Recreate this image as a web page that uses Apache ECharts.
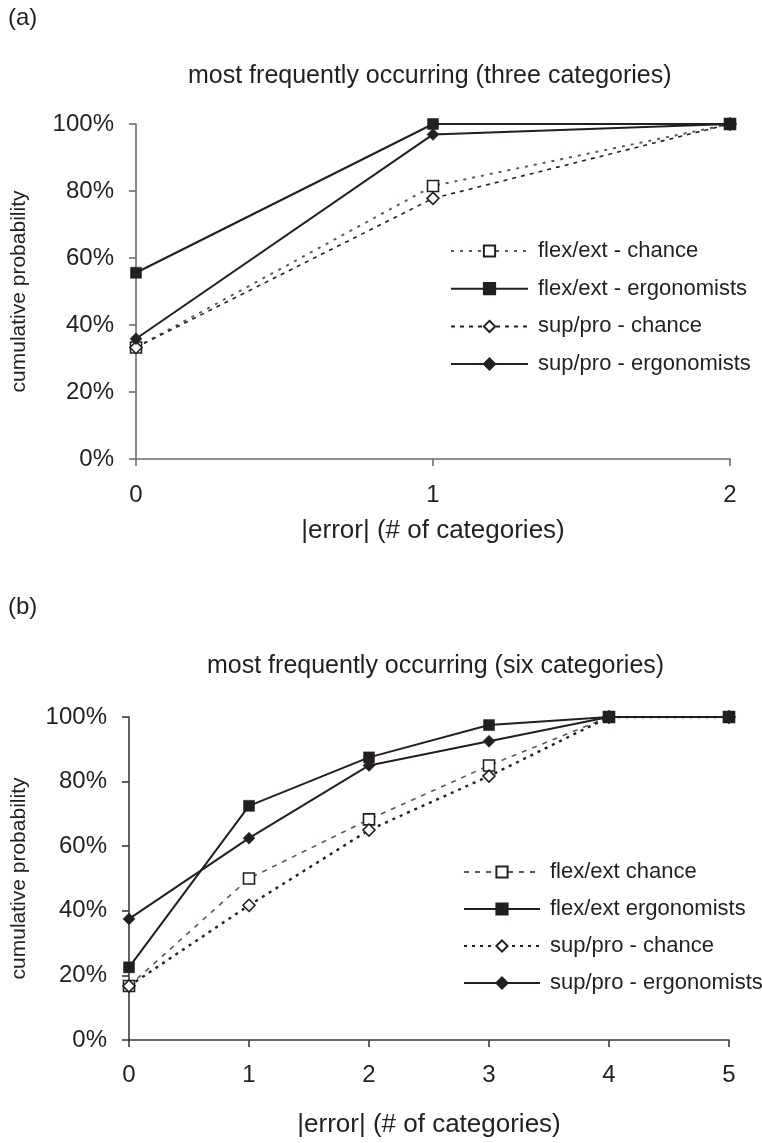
<!DOCTYPE html>
<html>
<head>
<meta charset="utf-8">
<script src="https://cdn.jsdelivr.net/npm/echarts@6/dist/echarts.min.js"></script>
<style>
  html, body { margin: 0; padding: 0; background: #fff; }
  #chartA { width: 762px; height: 572px; }
  #chartB { width: 762px; height: 571px; }
</style>
</head>
<body>
<div id="chartA"></div>
<div id="chartB"></div>
<script>
// Panel (a): three categories
const aErrors = [0, 1, 2];
const aFlexChance = [33.3, 81.5, 100];
const aFlexErgo = [55.6, 100, 100];
const aSupChance = [33.3, 77.8, 100];
const aSupErgo = [35.9, 96.9, 100];
const aNames = ['flex/ext - chance', 'flex/ext - ergonomists', 'sup/pro - chance', 'sup/pro - ergonomists'];

// Panel (b): six categories
const bErrors = [0, 1, 2, 3, 4, 5];
const bFlexChance = [16.7, 50, 68.3, 85, 100, 100];
const bFlexErgo = [22.5, 72.5, 87.5, 97.5, 100, 100];
const bSupChance = [16.7, 41.7, 65, 81.7, 100, 100];
const bSupErgo = [37.5, 62.5, 85, 92.5, 100, 100];
const bNames = ['flex/ext chance', 'flex/ext ergonomists', 'sup/pro - chance', 'sup/pro - ergonomists'];

const yTicks = [0, 20, 40, 60, 80, 100];

const FONT = '"Liberation Sans", Arial, sans-serif';
const INK = '#231f20';
const PURPLE = '#55557f';

function pairs(xs, ys) { return xs.map((x, i) => [x, ys[i]]); }

function lineSeries(name, xs, ys, opts) {
  return {
    name: name,
    type: 'line',
    data: pairs(xs, ys),
    symbol: opts.symbol,
    symbolSize: opts.symbolSize,
    showAllSymbol: true,
    animation: false,
    z: opts.z,
    lineStyle: { color: opts.lineColor, width: opts.width, type: opts.dash || 'solid' },
    itemStyle: {
      color: opts.open ? '#ffffff' : INK,
      borderColor: INK,
      borderWidth: opts.open ? 1.6 : 0.5
    },
    emphasis: { disabled: true }
  };
}

function buildOption(p) {
  return {
    animation: false,
    textStyle: { fontFamily: FONT },
    graphic: [
      { type: 'text', left: 8, top: p.tagTop,
        style: { text: p.tag, font: '24px ' + FONT, fill: INK } },
      { type: 'text', left: p.titleLeft, top: p.titleTop,
        style: { text: p.title, font: '25px ' + FONT, fill: INK } }
    ],
    grid: { left: p.grid.left, right: p.grid.right, top: p.grid.top, height: p.grid.height },
    legend: {
      orient: 'vertical',
      left: p.legend.left,
      top: p.legend.top,
      padding: 0,
      itemWidth: p.legend.itemWidth,
      itemHeight: 14,
      itemGap: p.legend.gap,
      selectedMode: false,
      data: p.names,
      textStyle: { fontFamily: FONT, fontSize: 22, color: INK, lineHeight: 24, padding: [0, 0, 0, 5] }
    },
    xAxis: {
      type: 'value',
      min: 0,
      max: p.xMax,
      interval: 1,
      name: '|error| (# of categories)',
      nameLocation: 'middle',
      nameGap: p.xNameGap,
      nameTextStyle: { fontFamily: FONT, fontSize: 26, color: INK },
      axisLine: { onZero: false, lineStyle: { color: p.axisColor, width: 1.6 } },
      axisTick: { show: true, length: 7, lineStyle: { color: p.axisColor, width: 1.6 } },
      axisLabel: { fontFamily: FONT, fontSize: 24, color: INK, margin: p.xLabelMargin },
      splitLine: { show: false }
    },
    yAxis: {
      type: 'value',
      min: yTicks[0],
      max: yTicks[yTicks.length - 1],
      interval: 20,
      name: 'cumulative probability',
      nameLocation: 'middle',
      nameGap: p.yNameGap,
      nameTextStyle: { fontFamily: FONT, fontSize: 21, color: INK },
      axisLine: { show: true, lineStyle: { color: p.axisColor, width: 1.6 } },
      axisTick: { show: true, length: 7, lineStyle: { color: p.axisColor, width: 1.6 } },
      axisLabel: { fontFamily: FONT, fontSize: 24, color: INK, margin: 22, formatter: v => v + '%' },
      splitLine: { show: false }
    },
    series: p.series
  };
}

const chartA = echarts.init(document.getElementById('chartA'), null, { renderer: 'canvas' });
chartA.setOption(buildOption({
  tag: '(a)', tagTop: 6,
  title: 'most frequently occurring (three categories)', titleTop: 64, titleLeft: 188,
  grid: { left: 136, right: 32, top: 124, height: 335 },
  legend: { left: 450, top: 239, itemWidth: 77, gap: 13.7 },
  names: aNames,
  xMax: 2, xNameGap: 59, xLabelMargin: 24, yNameGap: 106,
  axisColor: '#6b6b6b',
  series: [
    lineSeries(aNames[0], aErrors, aFlexChance, { symbol: 'rect', symbolSize: 11, open: true, lineColor: PURPLE, width: 2, dash: [3, 6], z: 2 }),
    lineSeries(aNames[2], aErrors, aSupChance, { symbol: 'diamond', symbolSize: 12, open: true, lineColor: INK, width: 1.6, dash: [4, 5], z: 2 }),
    lineSeries(aNames[1], aErrors, aFlexErgo, { symbol: 'rect', symbolSize: 11, open: false, lineColor: INK, width: 2, z: 3 }),
    lineSeries(aNames[3], aErrors, aSupErgo, { symbol: 'diamond', symbolSize: 12, open: false, lineColor: INK, width: 2, z: 3 })
  ]
}));

const chartB = echarts.init(document.getElementById('chartB'), null, { renderer: 'canvas' });
chartB.setOption(buildOption({
  tag: '(b)', tagTop: 23,
  title: 'most frequently occurring (six categories)', titleTop: 82, titleLeft: 207,
  grid: { left: 129, right: 33, top: 145, height: 325 },
  legend: { left: 463, top: 288, itemWidth: 76, gap: 13 },
  names: bNames,
  xMax: 5, xNameGap: 72, xLabelMargin: 23, yNameGap: 99,
  axisColor: '#3a3a3a',
  series: [
    lineSeries(bNames[0], bErrors, bFlexChance, { symbol: 'rect', symbolSize: 11, open: true, lineColor: PURPLE, width: 1.6, dash: [5, 6], z: 2 }),
    lineSeries(bNames[2], bErrors, bSupChance, { symbol: 'diamond', symbolSize: 12, open: true, lineColor: INK, width: 2.4, dash: [3, 5], z: 2 }),
    lineSeries(bNames[1], bErrors, bFlexErgo, { symbol: 'rect', symbolSize: 11, open: false, lineColor: INK, width: 2, z: 3 }),
    lineSeries(bNames[3], bErrors, bSupErgo, { symbol: 'diamond', symbolSize: 12, open: false, lineColor: INK, width: 2, z: 3 })
  ]
}));
</script>
</body>
</html>
